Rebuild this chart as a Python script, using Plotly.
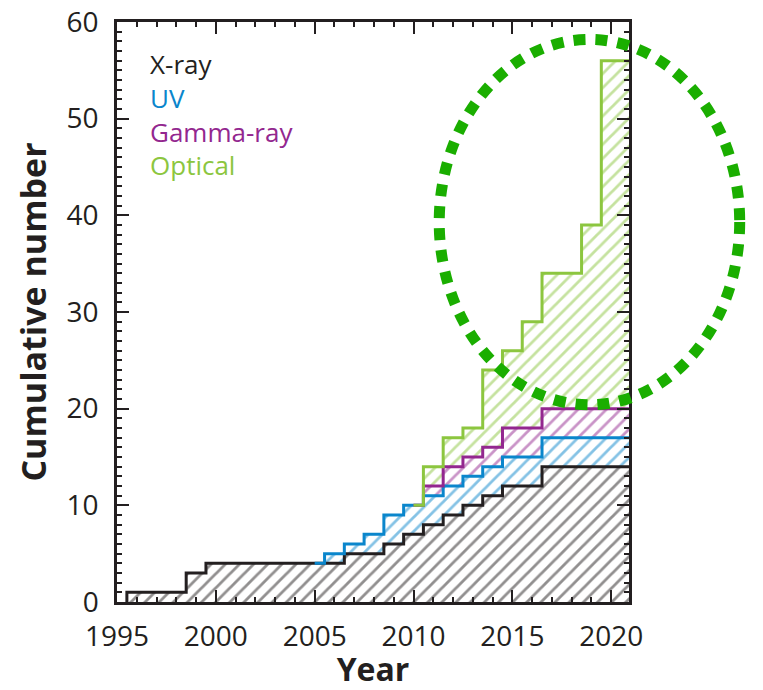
import plotly.graph_objects as go

# ---------------- data (cumulative number per year bin) ----------------
YEARS = list(range(1996, 2021))
XRAY = [1, 1, 1, 3, 4, 4, 4, 4, 4, 4, 4, 5, 5, 6, 7, 8, 9, 10, 11, 12, 12, 14, 14, 14, 14]
UV = [0, 0, 0, 0, 0, 0, 0, 0, 0, 0, 1, 1, 2, 3, 3, 3, 3, 3, 3, 3, 3, 3, 3, 3, 3]
GAMMA = [0, 0, 0, 0, 0, 0, 0, 0, 0, 0, 0, 0, 0, 0, 0, 1, 2, 2, 2, 3, 3, 3, 3, 3, 3]
OPTICAL = [0, 0, 0, 0, 0, 0, 0, 0, 0, 0, 0, 0, 0, 0, 0, 2, 3, 3, 8, 8, 11, 14, 14, 19, 36]
SERIES_NAMES = ["X-ray", "UV", "Gamma-ray", "Optical"]
X_TICKS = [1995, 2000, 2005, 2010, 2015, 2020]
Y_TICKS = [0, 10, 20, 30, 40, 50, 60]

# highlighted region (data units): centre year, centre value, half-widths
HILITE_CENTER = (2018.9, 39.3)
HILITE_RADII = (7.6, 18.9)

# ---------------- style ----------------
INK = "#231f20"
COLORS = ["#231f20", "#0a86cc", "#93278f", "#8cc63f"]
DOT_GREEN = "#1aae00"
XMIN, XMAX = 1995, 2020.9
YMIN, YMAX = 0, 60
FONT = "Open Sans"

n = len(YEARS)
left = [y - 0.5 for y in YEARS]
right = [y + 0.5 for y in YEARS]
right[-1] = XMAX

fig = go.Figure()
lines = []
base = [0] * n
for name, vals, col in zip(SERIES_NAMES, [XRAY, UV, GAMMA, OPTICAL], COLORS):
    top = [b + v for b, v in zip(base, vals)]
    start = next(i for i, v in enumerate(vals) if v > 0)
    px, py = [], []
    for i in range(start, n):
        px += [left[i], right[i]]
        py += [top[i], top[i]]
    for i in range(n - 1, start - 1, -1):
        px += [right[i], left[i]]
        py += [base[i], base[i]]
    px.append(px[0]); py.append(py[0])
    fig.add_trace(go.Scatter(
        x=px, y=py, mode="none", fill="toself",
        fillcolor="rgba(255,255,255,0)",
        fillpattern=dict(shape="/", fgcolor=col, bgcolor="rgba(255,255,255,0)",
                         size=10, solidity=0.28),
        hoverinfo="skip", showlegend=False))
    if start > 0:
        lx, ly = [YEARS[start - 1]], [top[start - 1]]
    else:
        lx, ly = [left[0]], [0]
    for i in range(start, n):
        lx.append(left[i]); ly.append(top[i])
    lx.append(right[-1]); ly.append(top[-1])
    lines.append(go.Scatter(x=lx, y=ly, mode="lines", line=dict(color=col, width=3, shape="hv"),
                            hoverinfo="skip", showlegend=False, name=name))
    base = top

for tr in lines:
    fig.add_trace(tr)

# legend as coloured text (one block)
legend_text = "<br>".join(f"<span style='color:{c}'>{nm}</span>" for nm, c in zip(SERIES_NAMES, COLORS))
fig.add_annotation(x=0.06, y=0.962, xref="paper", yref="paper",
                   text=legend_text, showarrow=False, xanchor="left", yanchor="top", align="left",
                   font=dict(family=FONT, size=26, color=INK))

# dotted ellipse (converted from data units to paper units so it can overflow the frame)
def to_px(v):
    return (v - XMIN) / (XMAX - XMIN)
def to_py(v):
    return (v - YMIN) / (YMAX - YMIN)
cx, cy = HILITE_CENTER
rx, ry = HILITE_RADII
fig.add_shape(type="circle", xref="paper", yref="paper",
              x0=to_px(cx - rx), x1=to_px(cx + rx), y0=to_py(cy - ry), y1=to_py(cy + ry),
              line=dict(color=DOT_GREEN, width=11, dash="12px,10px"), layer="above")

axis_common = dict(showline=True, linewidth=2.5, linecolor=INK, mirror="allticks",
                   ticks="inside", ticklen=12, tickwidth=2, tickcolor=INK,
                   showgrid=False, zeroline=False, automargin=False,
                   tickfont=dict(family=FONT, size=28, color=INK))
fig.update_xaxes(range=[XMIN, XMAX], tickvals=X_TICKS,
                 minor=dict(dtick=1, tick0=1995, ticks="inside", ticklen=5, tickwidth=2, tickcolor=INK),
                 title=dict(text="Year", font=dict(family=FONT, size=32, color=INK, weight="bold"), standoff=11),
                 ticklabelstandoff=8, **axis_common)
fig.update_yaxes(range=[YMIN, YMAX], tickvals=Y_TICKS,
                 minor=dict(dtick=1, tick0=0, ticks="inside", ticklen=5, tickwidth=2, tickcolor=INK),
                 title=dict(text="Cumulative number", font=dict(family=FONT, size=34, color=INK, weight="bold"), standoff=10),
                 ticklabelstandoff=10, **axis_common)

fig.update_layout(width=763, height=690, margin=dict(l=117, r=134, t=22, b=88),
                  paper_bgcolor="white", plot_bgcolor="white", showlegend=False)

fig.write_html("out.html")
